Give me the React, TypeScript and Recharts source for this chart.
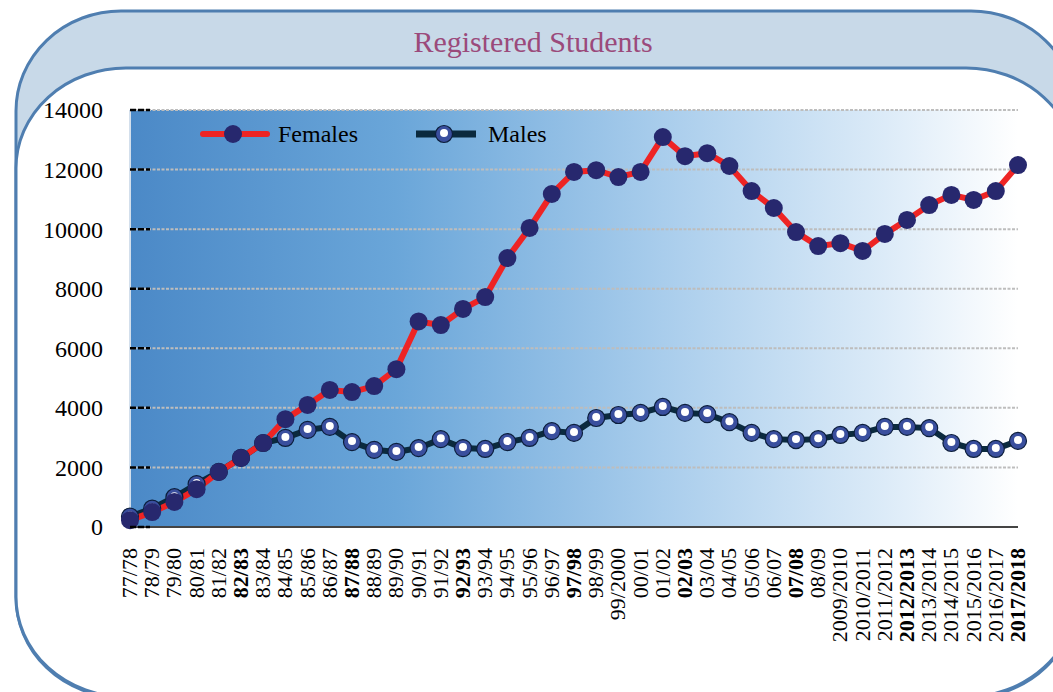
import { LineChart, Line, XAxis, YAxis, CartesianGrid, Legend } from "recharts";

const years = [
  "77/78", "78/79", "79/80", "80/81", "81/82", "82/83", "83/84", "84/85", "85/86", "86/87",
  "87/88", "88/89", "89/90", "90/91", "91/92", "92/93", "93/94", "94/95", "95/96", "96/97",
  "97/98", "98/99", "99/2000", "00/01", "01/02", "02/03", "03/04", "04/05", "05/06", "06/07",
  "07/08", "08/09", "2009/2010", "2010/2011", "2011/2012", "2012/2013", "2013/2014",
  "2014/2015", "2015/2016", "2016/2017", "2017/2018",
];

const females = [
  230, 500, 840, 1270, 1850, 2320, 2820, 3620, 4100, 4600,
  4530, 4730, 5300, 6900, 6780, 7320, 7720, 9030, 10040, 11180,
  11920, 11980, 11750, 11920, 13090, 12450, 12550, 12120, 11280, 10710,
  9900, 9430, 9530, 9270, 9840, 10310, 10810, 11150, 10980, 11280,
  12150,
];

const males = [
  350, 620, 1000, 1440, 1850, 2320, 2820, 2990, 3260, 3360,
  2850, 2590, 2520, 2650, 2950, 2650, 2620, 2850, 2990, 3220,
  3160, 3660, 3760, 3830, 4030, 3830, 3790, 3520, 3160, 2950,
  2920, 2950, 3090, 3160, 3360, 3360, 3320, 2820, 2620, 2620,
  2890,
];

const yTicks = [0, 2000, 4000, 6000, 8000, 10000, 12000, 14000];
const boldYears = ["82/83", "87/88", "92/93", "97/98", "02/03", "07/08", "2012/2013", "2017/2018"];

const data = years.map((year, i) => ({ year, Females: females[i], Males: males[i] }));

const serif = "'Liberation Serif', 'Times New Roman', serif";
const frameStroke = "#4f7eb0";

const FemaleDot = ({ cx, cy }: { cx: number; cy: number }) => (
  <circle cx={cx} cy={cy} r={9} fill="#27286e" />
);

const MaleDot = ({ cx, cy }: { cx: number; cy: number }) => (
  <g>
    <circle cx={cx} cy={cy} r={8.5} fill="#3a4f9e" stroke="#0c1e3c" strokeWidth={1.2} />
    <circle cx={cx} cy={cy - 1} r={4} fill="#ffffff" />
  </g>
);

const YTick = ({ x, y, payload }: any) => (
  <g>
    <line x1={x} x2={x + 20} y1={y} y2={y} stroke="#000" strokeWidth={2.5} strokeDasharray="6 2" />
    <text x={x - 27} y={y} dy="0.35em" textAnchor="end" fontSize={24} fontFamily={serif} fill="#000">
      {payload.value}
    </text>
  </g>
);

const XTick = ({ x, y, payload }: any) => (
  <text
    transform={`translate(${x + 7},${y + 21}) rotate(-90)`}
    textAnchor="end"
    fontSize={22}
    fontFamily={serif}
    fontWeight={boldYears.includes(payload.value) ? "bold" : "normal"}
    fill="#000"
  >
    {payload.value}
  </text>
);

const LegendContent = () => (
  <div style={{ position: "relative", width: 420, height: 30, fontFamily: serif, fontSize: 24, color: "#000" }}>
    <svg width={70} height={30} style={{ position: "absolute", left: 5, top: 0 }}>
      <line x1={3} x2={67} y1={15} y2={15} stroke="#ee2424" strokeWidth={6} strokeLinecap="round" />
      <FemaleDot cx={33} cy={15} />
    </svg>
    <span style={{ position: "absolute", left: 83, top: 0, lineHeight: "30px" }}>Females</span>
    <svg width={66} height={30} style={{ position: "absolute", left: 219, top: 0 }}>
      <line x1={2} x2={62} y1={15} y2={15} stroke="#0b2a3e" strokeWidth={7} />
      <MaleDot cx={30} cy={15} />
    </svg>
    <span style={{ position: "absolute", left: 293, top: 0, lineHeight: "30px" }}>Males</span>
  </div>
);

export default function App() {
  return (
    <div style={{ position: "absolute", left: 0, top: 0, width: 1053, height: 692, overflow: "hidden", background: "#fff" }}>
      <svg width={1053} height={692} style={{ position: "absolute", left: 0, top: 0 }}>
        <rect x={16} y={11} width={1060} height={686} rx={105} ry={100} fill="#c8d9e8" stroke={frameStroke} strokeWidth={3} />
        <rect x={16} y={68} width={1060} height={629} rx={110} ry={100} fill="#ffffff" stroke={frameStroke} strokeWidth={3} />
        <text x={533} y={52} textAnchor="middle" fontSize={30} fontFamily={serif} fill="#9b4a7b">
          Registered Students
        </text>
      </svg>
      <div style={{ position: "absolute", left: 0, top: 0 }}>
        <LineChart width={1053} height={692} data={data} margin={{ top: 110, right: 35, left: 70, bottom: 35 }}>
          <defs>
            <linearGradient id="plotBg" x1="0" y1="0" x2="1" y2="0">
              <stop offset="0%" stopColor="#4b89c7" />
              <stop offset="30%" stopColor="#6aa6d9" />
              <stop offset="60%" stopColor="#a9cdec" />
              <stop offset="85%" stopColor="#dcebf8" />
              <stop offset="100%" stopColor="#ffffff" />
            </linearGradient>
          </defs>
          <CartesianGrid
            vertical={false}
            stroke="#bdbdbd"
            strokeWidth={2}
            strokeDasharray="3 1.5"
            fill="url(#plotBg)"
            fillOpacity={1}
          />
          <XAxis
            dataKey="year"
            interval={0}
            height={130}
            tickSize={0}
            tickMargin={0}
            tickLine={false}
            axisLine={{ stroke: "#444", strokeWidth: 2 }}
            tick={<XTick />}
          />
          <YAxis
            domain={[0, 14000]}
            ticks={yTicks}
            width={60}
            tickSize={0}
            tickMargin={0}
            tickLine={false}
            axisLine={{ stroke: "#d3dfec", strokeWidth: 2 }}
            tick={<YTick />}
          />
          <Legend
            layout="horizontal"
            verticalAlign="middle"
            align="center"
            wrapperStyle={{ top: 119, left: 195, width: 420, height: 30 }}
            content={<LegendContent />}
          />
          <Line
            type="linear"
            dataKey="Males"
            stroke="#0b2a3e"
            strokeWidth={6}
            isAnimationActive={false}
            dot={(p: any) => <MaleDot key={`m-${p.index}`} cx={p.cx} cy={p.cy} />}
            activeDot={false}
          />
          <Line
            type="linear"
            dataKey="Females"
            stroke="#ee2424"
            strokeWidth={6}
            isAnimationActive={false}
            dot={(p: any) => <FemaleDot key={`f-${p.index}`} cx={p.cx} cy={p.cy} />}
            activeDot={false}
          />
        </LineChart>
      </div>
    </div>
  );
}
